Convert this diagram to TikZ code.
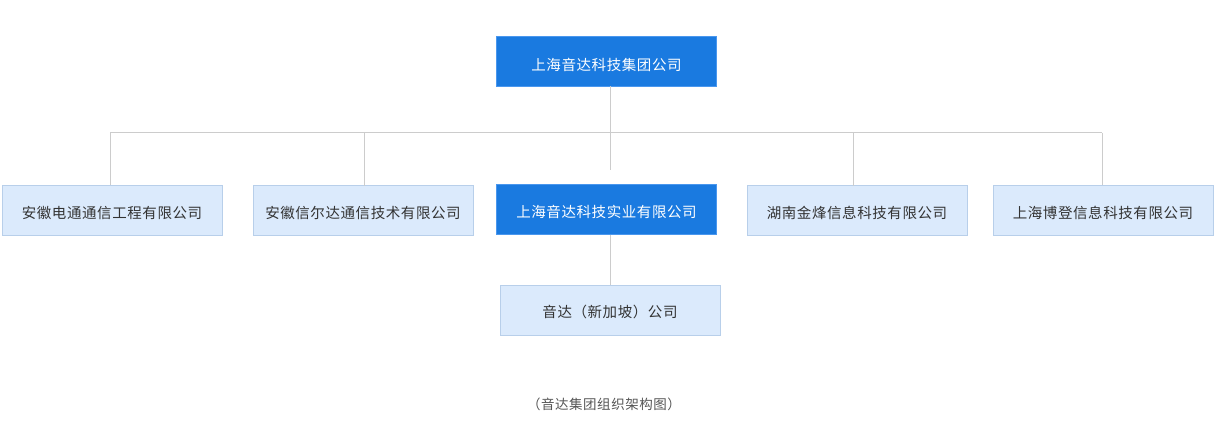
\documentclass[tikz,border=0pt]{standalone}
\usepackage{fontspec}
\setmainfont{Noto Sans CJK SC}[LetterSpace=4]
\definecolor{bluefill}{HTML}{1A7AE0}
\definecolor{blueline}{HTML}{4A97EE}
\definecolor{lightfill}{HTML}{DBEAFC}
\definecolor{lightline}{HTML}{B8CFEA}
\definecolor{conn}{HTML}{CCCCCC}
\definecolor{txt}{HTML}{333333}
\definecolor{captxt}{HTML}{555555}
\tikzset{
  base/.style={minimum width=220pt, minimum height=50pt, inner sep=0pt, text height=16.5pt, text depth=1.5pt, font=\fontsize{14.5}{16}\selectfont, line width=1pt},
  bluebox/.style={base, fill=bluefill, draw=blueline, text=white},
  lightbox/.style={base, fill=lightfill, draw=lightline, text=txt},
  link/.style={draw=conn, line width=1pt},
}
\begin{document}
\begin{tikzpicture}[x=1pt,y=1pt]
\useasboundingbox (0,0) rectangle (1220,431);
\node[bluebox, text height=20pt]  (top) at (606.5,369.5) {上海音达科技集团公司};
\node[lightbox] (b1)  at (112,220) {安徽电通通信工程有限公司};
\node[lightbox] (b2)  at (363,220) {安徽信尔达通信技术有限公司};
\node[bluebox]  (b3)  at (606.5,221) {上海音达科技实业有限公司};
\node[lightbox] (b4)  at (857,220) {湖南金烽信息科技有限公司};
\node[lightbox] (b5)  at (1103,220) {上海博登信息科技有限公司};
\node[lightbox] (b6)  at (610,120.5) {音达（新加坡）公司};
\node[text=captxt, font=\fontsize{13.5}{16}\selectfont, inner sep=0pt] (cap) at (604,27) {（音达集团组织架构图）};
\coordinate (ts) at (610,345);
\coordinate (te) at (610,261);
\coordinate (hl) at (110,298);
\coordinate (hr) at (1102,298);
\draw[link] (ts) -- (te);
\draw[link] (hl) -- (hr);
\draw[link] (hl) -- (hl |- b1.north);
\draw[link] (364,298) -- (364,245);
\draw[link] (853,298) -- (853,245);
\draw[link] (hr) -- (hr |- b5.north);
\draw[link] (610,196) -- (b6.north);
\end{tikzpicture}
\end{document}
